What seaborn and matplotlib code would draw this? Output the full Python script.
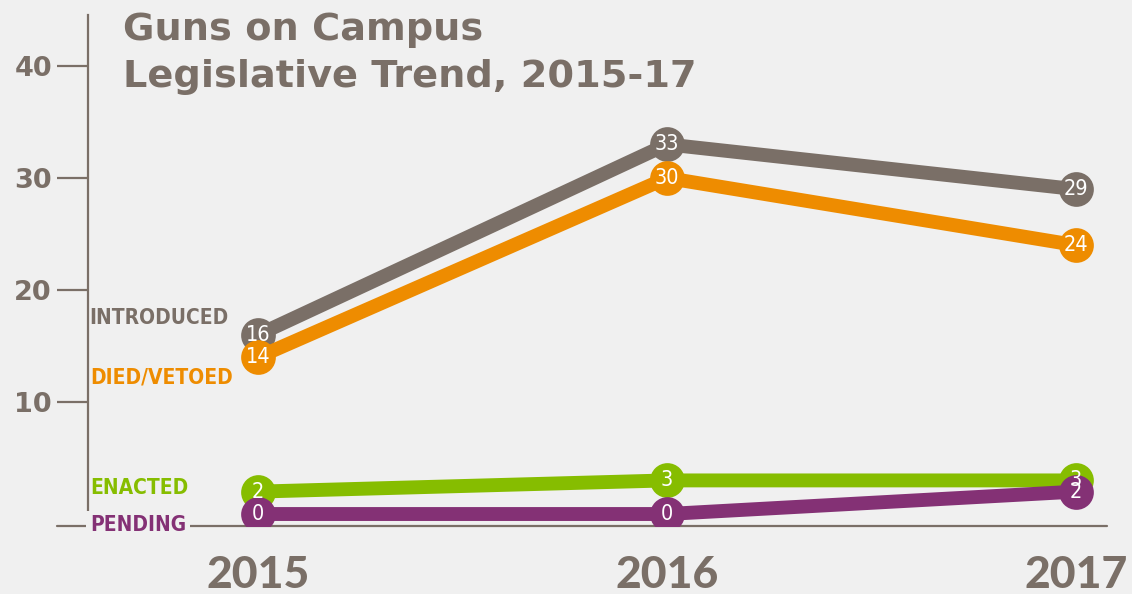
import pandas as pd
import numpy as np
import matplotlib.pyplot as plt
import seaborn as sns

years = [2015, 2016, 2017]
introduced = [16, 33, 29]
died_vetoed = [14, 30, 24]
enacted = [2, 3, 3]
pending = [0, 0, 2]
series_names = ['INTRODUCED', 'DIED/VETOED', 'ENACTED', 'PENDING']
colors = ['#7a6f67', '#ee8c00', '#86bd00', '#843175']
y_ticks = [10, 20, 30, 40]

bg = '#f0f0f0'
gray = '#7a6f67'

data = pd.DataFrame({
    'year': years * 4,
    'count': introduced + died_vetoed + enacted + pending,
    'series': [n for n in series_names for _ in years],
})

sns.set_style('white')
plt.rcParams['font.family'] = ['Lato', 'DejaVu Sans']

fig = plt.figure(figsize=(11.32, 5.94), dpi=100, facecolor=bg)
ax = fig.add_axes([88 / 1132, 68 / 594, 1019 / 1132, 511 / 594])
ax.set_facecolor(bg)

sns.lineplot(data, x='year', y='count', hue='series', hue_order=series_names,
             palette=colors, linewidth=10, marker='o', markersize=25,
             markeredgewidth=0, legend=False, ax=ax)
ax.set_xlim(2014.584, 2017.076)
ax.set_ylim(-1.07, 44.55)

# axis styling
for s in ['top', 'right', 'bottom']:
    ax.spines[s].set_visible(False)
ax.spines['left'].set_color(gray)
ax.spines['left'].set_linewidth(1.6)
ax.set_yticks(y_ticks)
ax.set_yticklabels([str(t) for t in y_ticks])
ax.tick_params(axis='y', length=22, width=1.6, color=gray, pad=4,
               labelsize=19.5, labelcolor=gray, left=True)
for lab in ax.get_yticklabels():
    lab.set_fontweight('bold')
    lab.set_family('DejaVu Sans')
ax.set_xticks(years)
ax.set_xticklabels([str(y) for y in years])
ax.tick_params(axis='x', length=0, pad=21, labelsize=32, labelcolor=gray)
for lab in ax.get_xticklabels():
    lab.set_fontweight('black')
ax.set_xlabel('')
ax.set_ylabel('')
ax.grid(False)

# baseline
ax.plot([-31 / 1019, 1], [0, 0], transform=ax.transAxes, color=gray,
        linewidth=1.6, clip_on=False, zorder=1)

# value labels in markers
values = [introduced, died_vetoed, enacted, pending]
for vals in values:
    for x, v in zip(years, vals):
        ax.text(x, v, str(v), ha='center', va='center', color='white',
                fontsize=15.5, family='DejaVu Sans', fontstretch='condensed',
                zorder=10)

# series labels on the left
offsets = [(-30, 17), (-25, -20), (-70, 4), (-72, -11)]
for name, vals, c, off in zip(series_names, values, colors, offsets):
    ax.annotate(name, (years[0], vals[0]), xytext=off, textcoords='offset pixels',
                ha='right', va='center', color=c, fontsize=15, fontweight='bold',
                family='DejaVu Sans', fontstretch='condensed',
                bbox=dict(facecolor=bg, edgecolor='none', pad=3) if name == 'PENDING' else None)

fig.text(123 / 1132, 1 - 12 / 594, 'Guns on Campus\nLegislative Trend, 2015-17',
         ha='left', va='top', color=gray, fontsize=27.5, fontweight='bold',
         family='DejaVu Sans', linespacing=1.38)

fig.savefig('out.png', dpi=100, facecolor=bg)
